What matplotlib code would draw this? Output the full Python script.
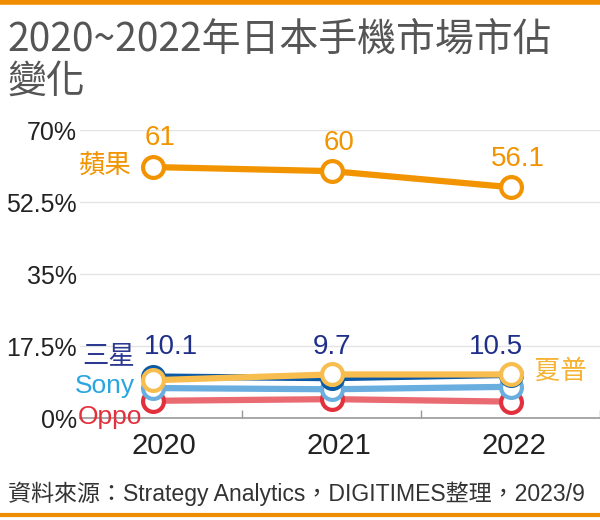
import matplotlib
matplotlib.use('Agg')
import matplotlib.pyplot as plt
from matplotlib.lines import Line2D

plt.rcParams['font.family'] = ['Liberation Sans', 'Noto Sans CJK TC', 'DejaVu Sans']

years = ['2020', '2021', '2022']
apple = [61, 60, 56.1]
samsung = [10.1, 9.7, 10.5]
sharp = [9.2, 10.6, 10.6]
sony = [7.3, 7.0, 7.6]
oppo = [4.2, 4.6, 4.0]
yticks = [0, 17.5, 35, 52.5, 70]
ytick_labels = ['0%', '17.5%', '35%', '52.5%', '70%']

orange = '#F29400'
navy = '#1f2f8a'

fig = plt.figure(figsize=(6, 5.2), dpi=100)
ax = fig.add_axes([0.133, 0.196, 0.867, 0.554])
x = list(range(len(years)))

def draw(vals, line_c, edge_c, z):
    ax.plot(x, vals, color=line_c, lw=4.5, zorder=z, solid_capstyle='round')
    ax.plot(x, vals, ls='none', marker='o', ms=15, mfc='white', mec=edge_c, mew=3, zorder=z + 0.5)

draw(oppo, '#ea6a72', '#e2303c', 3)
draw(sony, '#6aaee0', '#6aaee0', 4)
draw(samsung, '#0b5aa6', '#0b5aa6', 5)
draw(sharp, '#f8bd4f', '#f8bd4f', 6)
draw(apple, orange, orange, 7)

for i, v in enumerate(apple):
    ax.text(i + 0.04, v + 3.8, '%g' % v, ha='center', va='bottom', color=orange, fontsize=20)
for i, v in enumerate(samsung):
    ax.text(i + [0.1, 0.0, -0.08][i], 14.2, '%g' % v, ha='center', va='bottom', color=navy, fontsize=20)

ax.text(-0.12, apple[0], '蘋果', ha='right', va='center', color=orange, fontsize=19)
ax.text(-0.1, 15.0, '三星', ha='right', va='center', color='#2b3a90', fontsize=19)
ax.text(-0.1, 7.8, 'Sony', ha='right', va='center', color='#29a6e0', fontsize=19)
ax.text(-0.06, 0.3, 'Oppo', ha='right', va='center', color='#e2303c', fontsize=19)
ax.text(2.13, 11.3, '夏普', ha='left', va='center', color='#f5b233', fontsize=19)

ax.set_xlim(-0.41, 2.5)
ax.set_ylim(0, 70)
ax.set_yticks(yticks)
ax.set_yticklabels(ytick_labels)
ax.set_xticks([0.06, 1.04, 2.02])
ax.set_xticklabels(years)
ax.set_xticks([0.5, 1.5, 2.5], minor=True)
ax.tick_params(axis='y', length=0, labelsize=18, pad=2, labelcolor='#222222')
ax.tick_params(axis='x', which='major', length=0, labelsize=21, pad=10, labelcolor='#222222')
ax.tick_params(axis='x', which='minor', direction='in', length=6, width=1, color='#999999')
ax.grid(axis='y', color='#e4e4e4', lw=1, zorder=0)
ax.grid(axis='x', visible=False)
for s in ['top', 'right', 'left']:
    ax.spines[s].set_visible(False)
ax.spines['bottom'].set_color('#999999')
ax.spines['bottom'].set_linewidth(1.2)
ax.set_axisbelow(True)

fig.text(0.013, 0.923, '2020~2022年日本手機市場市佔', fontsize=28, color='#555555',
         weight='medium', family=['Noto Sans CJK TC'], va='center')
fig.text(0.013, 0.842, '變化', fontsize=28, color='#555555',
         weight='medium', family=['Noto Sans CJK TC'], va='center')
fig.text(0.013, 0.051, '資料來源：Strategy Analytics，DIGITIMES整理，2023/9', fontsize=16.6,
         color='#333333', va='center')

fig.add_artist(Line2D([0, 1], [0.997, 0.997], color='#F08C00', lw=4, transform=fig.transFigure))
fig.add_artist(Line2D([0, 1], [0.009, 0.009], color='#F08C00', lw=3, transform=fig.transFigure))

fig.savefig('out.png', dpi=100)
